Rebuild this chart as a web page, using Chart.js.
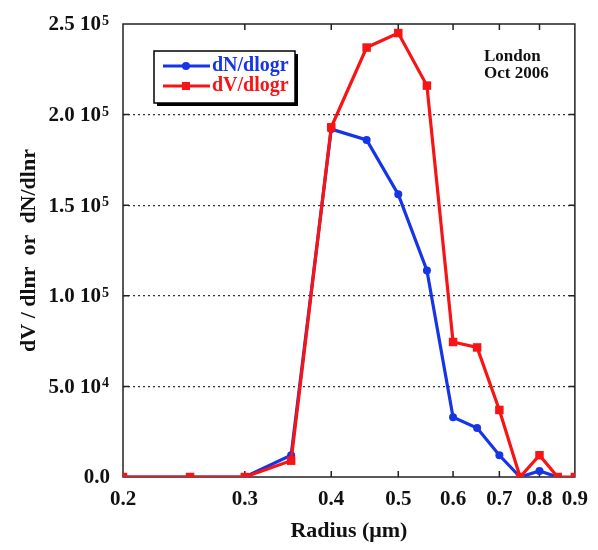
<!DOCTYPE html>
<html>
<head>
<meta charset="utf-8">
<script src="https://cdn.jsdelivr.net/npm/chart.js@4/dist/chart.umd.min.js"></script>
<style>
html, body { margin: 0; padding: 0; background: #fff; }
</style>
</head>
<body>
<canvas id="c" width="598" height="550"></canvas>
<script>
// size distribution, London Oct 2006

var radius = [0.2, 0.25, 0.3, 0.35, 0.4, 0.45, 0.5, 0.55, 0.6, 0.65, 0.7, 0.75, 0.8, 0.85, 0.9];
var dN = [0, 0, 0, 12000, 192000, 186000, 156000, 114000, 33000, 27000, 12000, 0, 3300, 0, null];
var dV = [0, 0, 0, 9000, 193000, 237000, 245000, 216000, 74500, 71500, 37000, 0, 12000, 0, 0];

var xTicks = [0.2, 0.3, 0.4, 0.5, 0.6, 0.7, 0.8, 0.9];
var yTicks = [0, 50000, 100000, 150000, 200000, 250000];
var yTickMant = ['0.0', '5.0', '1.0', '1.5', '2.0', '2.5'];
var yTickExp = ['', '4', '5', '5', '5', '5'];

var seriesLabels = ['dN/dlogr', 'dV/dlogr'];
var noteLines = ['London', 'Oct 2006'];

var BLUE = '#1535e6', RED = '#f81414';
var FONT = "'Liberation Serif', 'Times New Roman', serif";

function pts(ys) {
	return radius.map((r, i) => ({x: r, y: ys[i]}));
}

var framePlug = {
	id: 'frame',
	beforeDatasetsDraw(chart) {
		var ctx = chart.ctx, a = chart.chartArea, sx = chart.scales.x, sy = chart.scales.y;
		ctx.save();
		ctx.strokeStyle = '#222';
		ctx.lineWidth = 1.5;
		ctx.strokeRect(a.left, a.top, a.right - a.left, a.bottom - a.top);
		// inward ticks
		ctx.beginPath();
		xTicks.slice(1, -1).forEach(v => {
			var px = sx.getPixelForValue(v);
			ctx.moveTo(px, a.bottom); ctx.lineTo(px, a.bottom - 6);
			ctx.moveTo(px, a.top); ctx.lineTo(px, a.top + 6);
		});
		yTicks.slice(1, -1).forEach(v => {
			var py = sy.getPixelForValue(v);
			ctx.moveTo(a.left, py); ctx.lineTo(a.left + 6, py);
			ctx.moveTo(a.right, py); ctx.lineTo(a.right - 6, py);
		});
		ctx.stroke();

		// y tick labels with superscript
		ctx.fillStyle = '#111';
		var xr = a.left - 14;
		yTicks.forEach((v, i) => {
			var py = sy.getPixelForValue(v);
			var ex = yTickExp[i];
			ctx.font = 'bold 14px ' + FONT;
			var ew = ex ? ctx.measureText(ex).width : 0;
			if (ex) {
				ctx.textAlign = 'right';
				ctx.textBaseline = 'alphabetic';
				ctx.fillText(ex, xr, py + 1);
			}
			ctx.font = 'bold 21px ' + FONT;
			ctx.textAlign = 'right';
			ctx.textBaseline = 'middle';
			var txt = ex ? yTickMant[i] + ' 10' : yTickMant[i];
			ctx.fillText(txt, xr - (ex ? ew + 1 : -1), py + 1);
		});
		ctx.restore();
	},
	afterDraw(chart) {
		var ctx = chart.ctx;
		ctx.save();
		// legend box with shadow
		var bx = 154, by = 51, bw = 141, bh = 52;
		ctx.fillStyle = '#000';
		ctx.fillRect(bx + 3, by + 3, bw, bh);
		ctx.fillStyle = '#fff';
		ctx.fillRect(bx, by, bw, bh);
		ctx.strokeStyle = '#000';
		ctx.lineWidth = 1.5;
		ctx.strokeRect(bx, by, bw, bh);

		var cols = [BLUE, RED];
		cols.forEach((c, i) => {
			var ly = by + 15 + i * 20;
			ctx.strokeStyle = c;
			ctx.lineWidth = 3;
			ctx.beginPath();
			ctx.moveTo(bx + 9, ly); ctx.lineTo(bx + 56, ly);
			ctx.stroke();
			ctx.fillStyle = c;
			if (i == 0) {
				ctx.beginPath();
				ctx.arc(bx + 32, ly, 4, 0, Math.PI * 2);
				ctx.fill();
			} else {
				ctx.fillRect(bx + 28, ly - 4, 8, 8);
			}
			ctx.font = 'bold 20px ' + FONT;
			ctx.textAlign = 'left';
			ctx.textBaseline = 'middle';
			ctx.fillText(seriesLabels[i], bx + 58, ly);
		});

		// note
		ctx.fillStyle = '#111';
		ctx.font = 'bold 17px ' + FONT;
		ctx.textAlign = 'left';
		ctx.textBaseline = 'middle';
		noteLines.forEach((t, i) => ctx.fillText(t, 484, 57 + i * 17));
		ctx.restore();
	}
};

var cfg = {
	type: 'line',
	data: {
		datasets: [{
			label: seriesLabels[0],
			data: pts(dN),
			borderColor: BLUE,
			backgroundColor: BLUE,
			borderWidth: 3.2,
			pointStyle: 'circle',
			pointRadius: 4,
			pointBorderWidth: 0,
			order: 1,
			spanGaps: false
		}, {
			label: seriesLabels[1],
			data: pts(dV),
			borderColor: RED,
			backgroundColor: RED,
			borderWidth: 3.2,
			pointStyle: 'rect',
			pointRadius: 6,
			pointBorderWidth: 0,
			order: 0
		}]
	},
	options: {
		responsive: false,
		animation: false,
		layout: {padding: {top: 24, right: 22, left: 0, bottom: 0}},
		plugins: {legend: {display: false}, tooltip: {enabled: false}},
		scales: {
			x: {
				type: 'logarithmic',
				min: 0.2,
				max: 0.9,
				afterBuildTicks: (s) => { s.ticks = xTicks.map(v => ({value: v})); },
				afterFit: (s) => { s.height = 73; },
				grid: {display: false, drawTicks: false},
				border: {display: false},
				ticks: {
					color: '#111',
					padding: 10,
					maxRotation: 0,
					autoSkip: false,
					font: {family: FONT, size: 21, weight: 'bold'},
					callback: (v) => Number(v).toFixed(1)
				},
				title: {
					display: true,
					text: 'Radius (μm)',
					color: '#111',
					font: {family: FONT, size: 22, weight: 'bold'},
					padding: {top: 0, bottom: 5}
				}
			},
			y: {
				min: 0,
				max: 250000,
				afterBuildTicks: (s) => { s.ticks = yTicks.map(v => ({value: v})); },
				afterFit: (s) => { s.width = 123; },
				grid: {
					drawTicks: false,
					lineWidth: 1.2,
					color: (c) => (c.tick && c.tick.value > 0 && c.tick.value < 250000) ? '#333' : 'rgba(0,0,0,0)'
				},
				border: {display: false, dash: [2, 3]},
				ticks: {display: false},
				title: {
					display: true,
					text: 'dV / dlnr  or  dN/dlnr',
					color: '#111',
					font: {family: FONT, size: 22, weight: 'bold'},
					padding: {top: 16, bottom: 0}
				}
			}
		}
	},
	plugins: [framePlug]
};

new Chart(document.getElementById('c').getContext('2d'), cfg);
</script>
</body>
</html>
